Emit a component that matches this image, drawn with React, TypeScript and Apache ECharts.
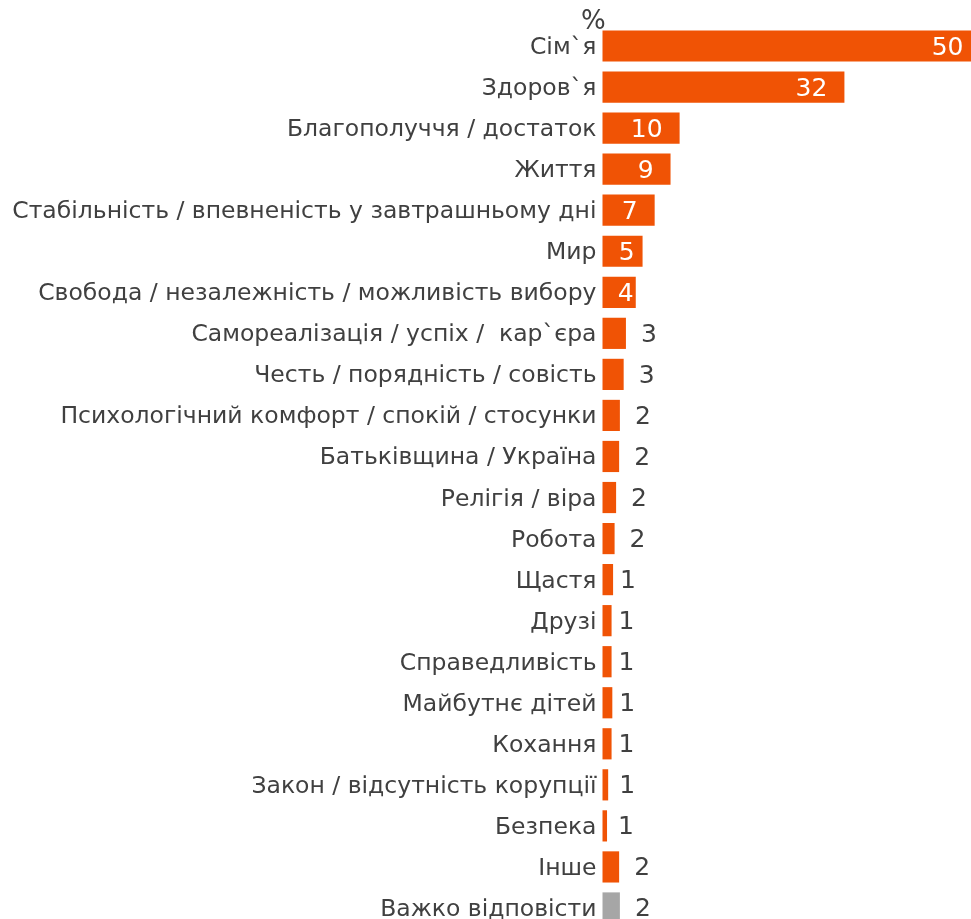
import React, { useEffect, useRef } from "react";
import * as echarts from "echarts";

const categories = [
  "Сім`я",
  "Здоров`я",
  "Благополуччя / достаток",
  "Життя",
  "Стабільність / впевненість у завтрашньому дні",
  "Мир",
  "Свобода / незалежність / можливість вибору",
  "Самореалізація / успіх /  кар`єра",
  "Честь / порядність / совість",
  "Психологічний комфорт / спокій / стосунки",
  "Батьківщина / Україна",
  "Релігія / віра",
  "Робота",
  "Щастя",
  "Друзі",
  "Справедливість",
  "Майбутнє дітей",
  "Кохання",
  "Закон / відсутність корупції",
  "Безпека",
  "Інше",
  "Важко відповісти",
];

const values = [50, 32.0, 10.2, 9.0, 6.9, 5.3, 4.4, 3.1, 2.8, 2.3, 2.2, 1.8, 1.6, 1.4, 1.2, 1.2, 1.3, 1.2, 0.75, 0.6, 2.2, 2.3];
const valueLabels = ["50", "32", "10", "9", "7", "5", "4", "3", "3", "2", "2", "2", "2", "1", "1", "1", "1", "1", "1", "1", "2", "2"];
const grayCategories = ["Важко відповісти"];

const ORANGE = "#F05305";
const GRAY = "#A6A6A6";
const TEXT = "#404040";
const FONT = "DejaVu Sans, Verdana, sans-serif";

export default function App() {
  const ref = useRef<HTMLDivElement>(null);
  useEffect(() => {
    if (!ref.current) return;
    const chart = echarts.init(ref.current, null, { renderer: "svg" });
    const data = values.map((v, i) => {
      const inside = v >= 4;
      const txt = valueLabels[i];
      const dist = inside
        ? v >= 6 ? 17 : v >= 5 ? 8 : 2
        : txt === "1" ? (v < 1 ? 11 : 7) : 15;
      return {
        value: v,
        itemStyle: { color: grayCategories.includes(categories[i]) ? GRAY : ORANGE },
        label: {
          show: true,
          position: inside ? "insideRight" : "right",
          distance: dist,
          color: inside ? "#FFFFFF" : TEXT,
          formatter: () => txt,
        },
      };
    });
    chart.setOption({
      animation: false,
      grid: { left: 602.5, top: 25.5, height: 903, width: 378, containLabel: false },
      xAxis: {
        type: "value",
        min: 0,
        max: 50,
        show: false,
      },
      yAxis: {
        type: "category",
        data: categories,
        inverse: true,
        axisLine: { show: false },
        axisTick: { show: false },
        splitLine: { show: false },
        axisLabel: { color: TEXT, fontSize: 23.5, fontFamily: FONT, margin: 6 },
      },
      graphic: [
        {
          type: "text",
          left: 581,
          top: 7,
          style: { text: "%", fontSize: 26, fontFamily: FONT, fill: TEXT },
        },
      ],
      series: [
        {
          type: "bar",
          data,
          barCategoryGap: "24%",
          label: { fontSize: 25, fontFamily: FONT },
        },
      ],
    });
    return () => chart.dispose();
  }, []);
  return <div ref={ref} style={{ position: "fixed", left: 0, top: 0, width: 1000, height: 950 }} />;
}
